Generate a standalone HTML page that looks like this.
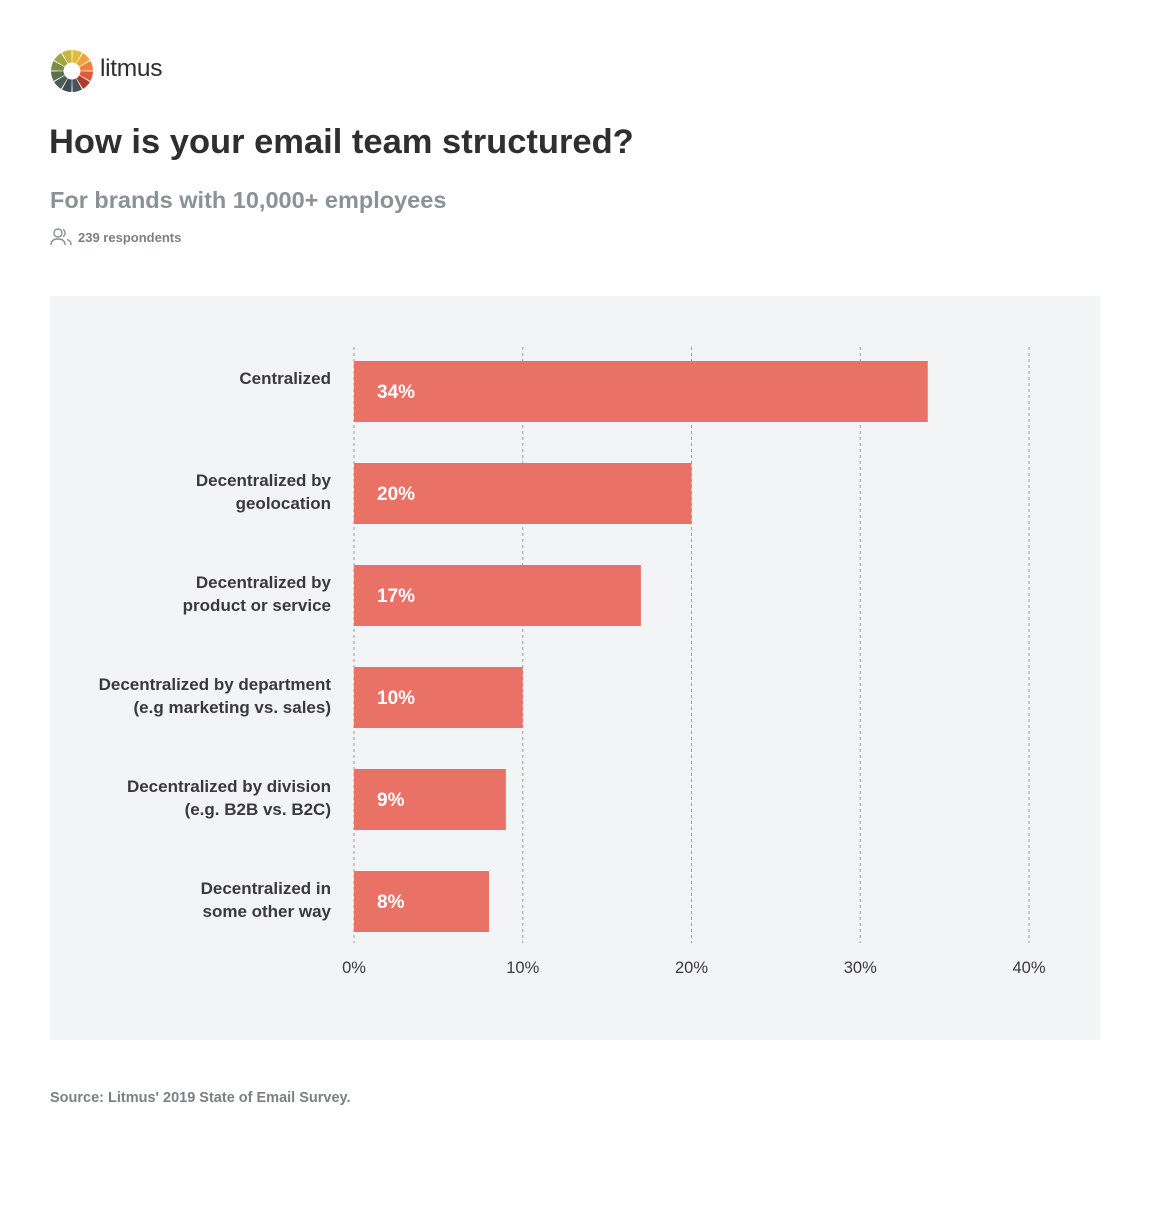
<!DOCTYPE html>
<html><head><meta charset="utf-8">
<style>
html,body{margin:0;padding:0;background:#fff;}
body{width:1150px;height:1230px;position:relative;font-family:"Liberation Sans",sans-serif;overflow:hidden;}
.abs{position:absolute;}
</style></head><body>
<svg class="abs" style="left:48px;top:47px" width="48" height="48" viewBox="-24 -24 48 48" id="logo"></svg>
<div class="abs" style="left:100px;top:55px;font-size:24.5px;color:#2d2d2d;letter-spacing:-0.3px;">litmus</div>
<div class="abs" style="left:49px;top:123px;font-size:34.5px;font-weight:bold;color:#2f2f2f;">How is your email team structured?</div>
<div class="abs" style="left:50px;top:187px;font-size:23.5px;font-weight:bold;color:#8a9391;">For brands with 10,000+ employees</div>
<svg class="abs" style="left:50px;top:227px" width="22" height="20" viewBox="0 0 22 20">
<circle cx="8" cy="6" r="4" fill="none" stroke="#8a8f93" stroke-width="1.4"/>
<path d="M1 18 Q1 12 8 12 Q15 12 15 18" fill="none" stroke="#8a8f93" stroke-width="1.4"/>
<path d="M13 2.5 A4 4 0 0 1 13 9.5" fill="none" stroke="#8a8f93" stroke-width="1.4"/>
<path d="M17 12.5 Q21 13.5 21 18" fill="none" stroke="#8a8f93" stroke-width="1.4"/>
</svg>
<div class="abs" style="left:78px;top:230px;font-size:13px;font-weight:bold;color:#7b8084;">239 respondents</div>
<div class="abs" style="left:50px;top:296px;width:1050px;height:744px;background:#f3f4f6;"></div>
<svg class="abs" style="left:0;top:0" width="1150" height="1230" id="chart"></svg>
<div class="abs" style="left:50px;top:1090px;font-size:14.5px;font-weight:bold;color:#7b8084;">Source: Litmus' 2019 State of Email Survey.</div>
<script>
const categories=[["Centralized"],["Decentralized by","geolocation"],["Decentralized by","product or service"],["Decentralized by department","(e.g marketing vs. sales)"],["Decentralized by division","(e.g. B2B vs. B2C)"],["Decentralized in","some other way"]];
const values=[34,20,17,10,9,8];
const ticks=[0,10,20,30,40];
const tickLabels=["0%","10%","20%","30%","40%"];
const NS="http://www.w3.org/2000/svg";
const svg=document.getElementById('chart');
const x0=354,pxPer=16.875;
function xs(v){return x0+v*pxPer;}
function ys(i){return 361+i*102;}
function mk(t,a){const e=document.createElementNS(NS,t);for(const k in a)e.setAttribute(k,a[k]);return e;}
ticks.forEach((t,i)=>{
 const l=mk('line',{x1:xs(t),x2:xs(t),y1:347,y2:943,stroke:'#9a9ea2','stroke-width':1,'stroke-dasharray':'3,3'});
 
 
 svg.appendChild(l);
 const tx=mk('text',{x:xs(t),y:973,'text-anchor':'middle','font-size':16.5,fill:'#3a3a3a'});
 
 
 tx.textContent=tickLabels[i];svg.appendChild(tx);
});
values.forEach((v,i)=>{
 const y=ys(i);
 const r=mk('rect',{x:x0,y:y,width:xs(v)-x0,height:61,fill:'#ea7166'});
 
 
 svg.appendChild(r);
 const t=mk('text',{x:377,y:y+37,'font-size':19,'font-weight':'bold',fill:'#fff'});
 
 
 t.textContent=v+'%';svg.appendChild(t);
 const lines=categories[i];
 lines.forEach((s,j)=>{
  const c=mk('text',{x:331,y:y+23+j*23,'text-anchor':'end','font-size':17,'font-weight':'bold',fill:'#3a3a3a'});
  
  
  c.textContent=s;svg.appendChild(c);
 });
});
const logo=document.getElementById('logo');
const cols=['#e7b93a','#f2a43a','#ee7f3c','#e05a3f','#b33a2c','#47525a','#3f4c55','#4d5c56','#5d6e4f','#7b8c48','#9fa544','#c7b544'];
for(let k=0;k<12;k++){
 const a1=(k*30-90+1.5)*Math.PI/180,a2=((k+1)*30-90-1.5)*Math.PI/180,R=21,r=8.5;
 const p=`M${R*Math.cos(a1)} ${R*Math.sin(a1)} A${R} ${R} 0 0 1 ${R*Math.cos(a2)} ${R*Math.sin(a2)} L${r*Math.cos(a2)} ${r*Math.sin(a2)} A${r} ${r} 0 0 0 ${r*Math.cos(a1)} ${r*Math.sin(a1)}Z`;
 const e=mk('path',{d:p,fill:cols[k]});
 
 
 logo.appendChild(e);
}
</script>
</body></html>
